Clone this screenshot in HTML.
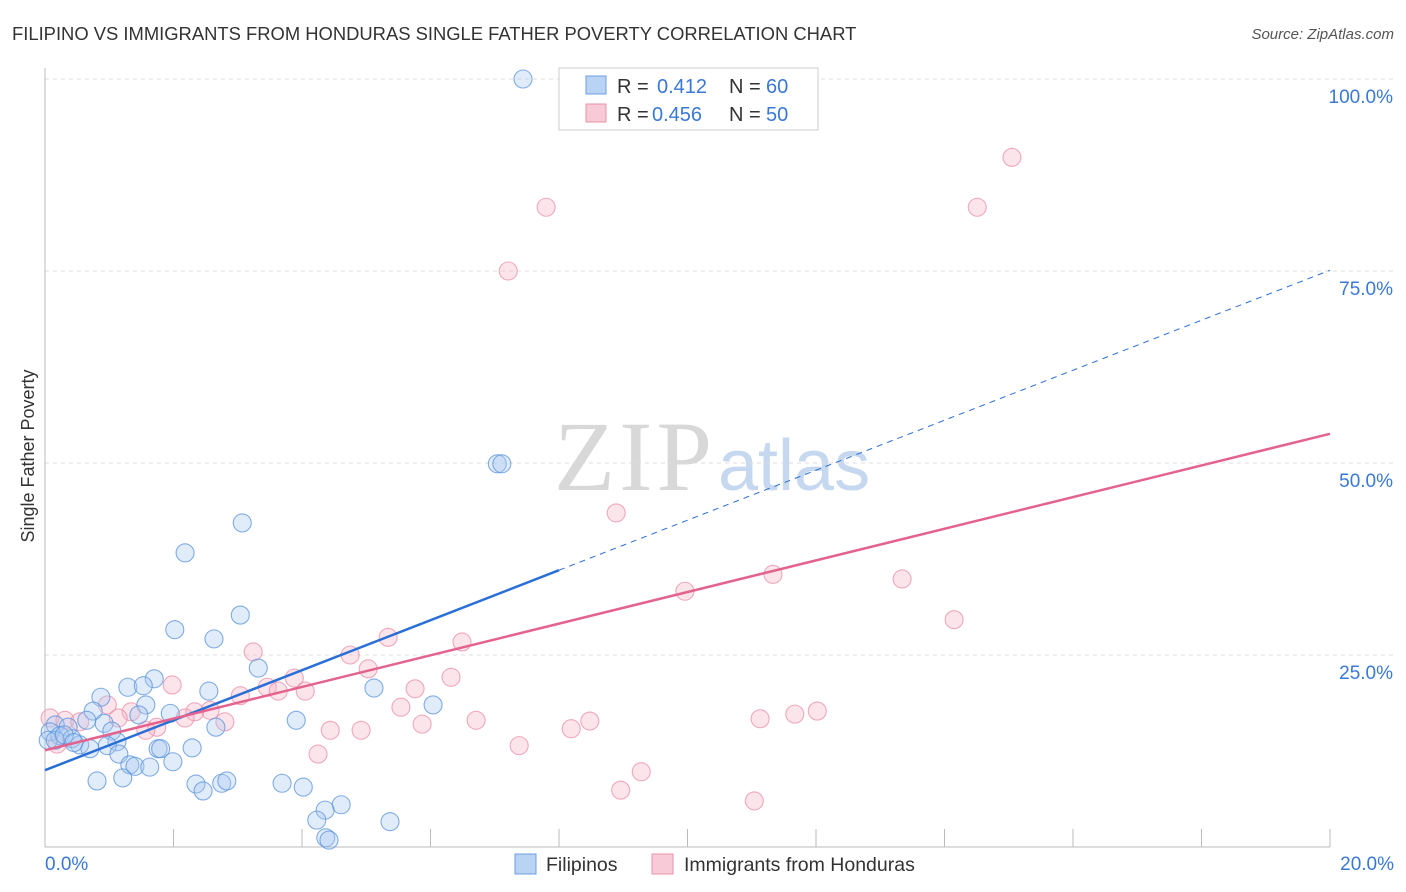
<!DOCTYPE html>
<html><head><meta charset="utf-8">
<style>
body{margin:0;background:#fff;font-family:"Liberation Sans",sans-serif;}
#wrap{position:relative;width:1406px;height:892px;overflow:hidden;}
</style></head>
<body>
<div id="wrap">
<svg id="svg" width="1406" height="892" xmlns="http://www.w3.org/2000/svg">
<text x="12" y="40" font-size="18.4" fill="#333">FILIPINO VS IMMIGRANTS FROM HONDURAS SINGLE FATHER POVERTY CORRELATION CHART</text>
<text x="1394" y="39" font-size="15" fill="#555" font-style="italic" text-anchor="end">Source: ZipAtlas.com</text>
<text x="34" y="456" font-size="18" fill="#333" text-anchor="middle" transform="rotate(-90 34 456)">Single Father Poverty</text>
<text x="554" y="490" font-size="100" fill="#d8d8d8" font-family="Liberation Serif,serif" textLength="158">ZIP</text>
<text x="718" y="490" font-size="72" fill="#c5d8ef">atlas</text>
<g id="grid"></g>
<g id="axes"></g>
<g id="pts"></g>
<g id="lines"></g>
<g>
<rect x="559" y="68" width="259" height="62" fill="#fff" stroke="#ccc"/>
<rect x="586" y="76" width="20" height="18" fill="#b9d3f5" stroke="#6a9fe0"/>
<text x="617" y="93" font-size="20" fill="#333">R = </text><text x="657" y="93" font-size="20" fill="#3a78d6">0.412</text>
<text x="729" y="93" font-size="20" fill="#333">N = </text><text x="766" y="93" font-size="20" fill="#3a78d6">60</text>
<rect x="586" y="104" width="20" height="18" fill="#f8c9d6" stroke="#ea93ac"/>
<text x="617" y="121" font-size="20" fill="#333">R = </text><text x="652" y="121" font-size="20" fill="#3a78d6">0.456</text>
<text x="729" y="121" font-size="20" fill="#333">N = </text><text x="766" y="121" font-size="20" fill="#3a78d6">50</text>
</g>
<g>
<rect x="515" y="854" width="21" height="20" fill="#b9d3f5" stroke="#6a9fe0"/>
<text x="546" y="871" font-size="19.5" fill="#333">Filipinos</text>
<rect x="652" y="854" width="21" height="20" fill="#f8c9d6" stroke="#ea93ac"/>
<text x="684" y="871" font-size="19.5" fill="#333">Immigrants from Honduras</text>
</g>
</svg>
</div>
<script>
const blueX=[7.44,7.04,7.11,3.07,2.18,3.04,2.02,2.63,3.32,1.70,1.29,1.53,2.55,5.12,0.87,6.04,1.57,0.75,1.95,1.46,3.91,0.92,0.65,2.66,0.16,0.36,1.04,0.08,0.23,0.42,0.54,1.12,0.70,0.97,2.29,1.76,1.80,1.15,1.99,1.32,1.40,1.63,0.81,1.21,2.35,2.75,2.83,2.46,3.69,4.02,4.61,4.36,4.23,5.37,4.37,4.42,0.05,0.16,0.30,0.45];
const blueY=[100,49.9,49.9,42.2,38.3,30.2,28.3,27.1,23.3,21.9,20.8,21.0,20.3,20.7,19.5,18.5,18.5,17.7,17.4,17.2,16.5,16.1,16.5,15.6,15.9,15.6,15.1,15.0,14.5,14.1,13.3,13.7,12.8,13.2,12.9,12.8,12.8,12.1,11.1,10.7,10.5,10.4,8.6,9.0,8.2,8.3,8.6,7.3,8.3,7.8,5.5,4.8,3.5,3.3,1.2,0.9,13.9,13.9,14.6,13.6];
const pinkX=[15.05,14.51,7.80,7.21,8.89,11.33,13.34,9.96,14.15,5.34,6.49,3.24,4.75,5.03,6.32,3.88,1.98,3.46,5.76,3.04,4.05,3.63,5.54,12.02,11.67,0.97,1.34,2.57,2.33,2.18,6.71,8.48,11.13,2.80,1.14,1.74,5.87,4.44,4.92,8.19,1.57,4.25,7.38,9.28,8.96,11.04,0.08,0.31,0.54,0.19];
const pinkY=[89.8,83.3,83.3,75.0,43.5,35.5,34.9,33.3,29.6,27.3,26.7,25.4,25.0,23.2,22.1,22.0,21.1,20.8,20.6,19.7,20.3,20.3,18.2,17.7,17.3,18.5,17.6,17.8,17.6,16.8,16.5,16.4,16.7,16.3,16.8,15.6,16.0,15.2,15.2,15.4,15.2,12.1,13.2,9.8,7.4,6.0,16.8,16.5,16.3,13.4];
const yTicks=[25,50,75,100];
const xTicks=[0,2,4,6,8,10,12,14,16,18,20];
const blueFit=[10.0,75.1];
const pinkFit=[12.6,53.8];

const NS="http://www.w3.org/2000/svg";
const sx=v=>45+v*64.25, sy=v=>847-v*7.68;
function mk(t,a,p){const e=document.createElementNS(NS,t);for(const k in a)e.setAttribute(k,a[k]);p.appendChild(e);return e;}
const grid=document.getElementById('grid'),axes=document.getElementById('axes'),pts=document.getElementById('pts'),lines=document.getElementById('lines');
yTicks.forEach(v=>{
 const l=mk('line',{x1:45,x2:1395,y1:sy(v),y2:sy(v),stroke:'#ddd','stroke-dasharray':'4,4'},grid);
 
 
 const t=mk('text',{x:1393,y:sy(v)+24,'font-size':19,fill:'#3a78d6','text-anchor':'end'},axes);
 t.textContent=v.toFixed(1)+'%';
 
 
});
mk('line',{x1:45,x2:45,y1:68,y2:847,stroke:'#bbb'},axes);
mk('line',{x1:45,x2:1330,y1:847,y2:847,stroke:'#bbb'},axes);
xTicks.forEach((v,i)=>{
 if(i>0){const l=mk('line',{x1:sx(v),x2:sx(v),y1:829,y2:847,stroke:'#bbb'},axes);
 
 }
});
[[0,'start',45],[20,'end',1394]].forEach(([v,a,x])=>{
 const t=mk('text',{x:x,y:870,'font-size':19,fill:'#3a78d6','text-anchor':a},axes);
 t.textContent=v.toFixed(1)+'%';
 
 
});
function dots(X,Y,fill,stroke,name){
 X.forEach((x,i)=>{const c=mk('circle',{cx:sx(x),cy:sy(Y[i]),r:9,fill:fill,'fill-opacity':0.35,stroke:stroke,'stroke-opacity':0.75,'stroke-width':1.1},pts);
 
 });
}
dots(pinkX,pinkY,'#f5b3c6','#ea8fa9','honduras-point');
dots(blueX,blueY,'#a9c8f0','#5a93dc','filipino-point');
const bAt=v=>blueFit[0]+(blueFit[1]-blueFit[0])*v/20, pAt=v=>pinkFit[0]+(pinkFit[1]-pinkFit[0])*v/20;
let l=mk('line',{x1:sx(0),y1:sy(bAt(0)),x2:sx(8.0),y2:sy(bAt(8.0)),stroke:'#2a6fd6','stroke-width':2.5},lines);


l=mk('line',{x1:sx(8.0),y1:sy(bAt(8.0)),x2:sx(20),y2:sy(bAt(20)),stroke:'#2a6fd6','stroke-width':1,'stroke-dasharray':'6,5'},lines);


l=mk('line',{x1:sx(0),y1:sy(pAt(0)),x2:sx(20),y2:sy(pAt(20)),stroke:'#e4638e','stroke-width':2.5},lines);


</script>
</body></html>
